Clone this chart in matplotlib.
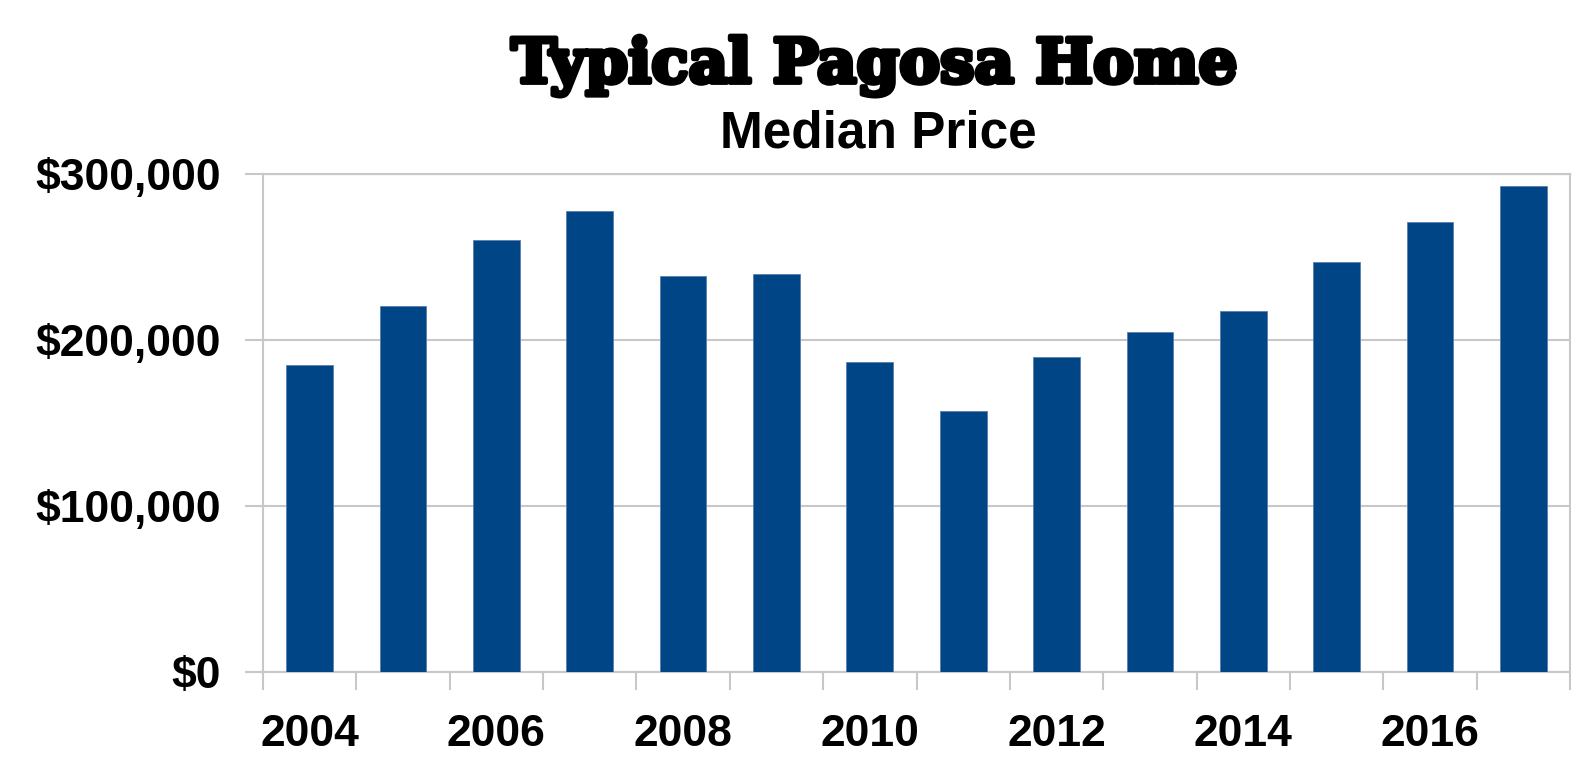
import matplotlib
matplotlib.use("Agg")
import matplotlib.pyplot as plt
import matplotlib.patheffects as pe
from matplotlib.ticker import FuncFormatter, FixedLocator

years = [2004, 2005, 2006, 2007, 2008, 2009, 2010, 2011, 2012, 2013, 2014, 2015, 2016, 2017]
median_price = [185000, 220500, 260000, 278000, 238500, 240000, 187000, 157000,
                190000, 205000, 217500, 247000, 271000, 293000]
y_ticks = [0, 100000, 200000, 300000]
title = "Typical Pagosa Home"
subtitle = "Median Price"

plt.rcParams['font.family'] = ['Liberation Sans', 'DejaVu Sans']

fig = plt.figure(figsize=(15.96, 7.67), dpi=100)
ax = fig.add_axes([263/1596, 1 - 672/767, (1570-263)/1596, (672-174)/767])

grid_c = '#c8c8c8'
x = list(range(len(years)))
ax.bar(x, median_price, width=0.5, color='#004586', edgecolor='#5a7fb0', linewidth=0.6, zorder=3)

ax.set_xlim(-0.5, len(years) - 0.5)
ax.set_ylim(0, 300000)
ax.set_yticks(y_ticks)
ax.yaxis.set_major_formatter(FuncFormatter(lambda v, p: f"${int(v):,}"))
ax.grid(axis='y', color=grid_c, linewidth=1.5, zorder=0)

ax.xaxis.set_major_locator(FixedLocator([i - 0.5 for i in range(len(years) + 1)]))
ax.xaxis.set_major_formatter(FuncFormatter(lambda v, p: ""))
ax.xaxis.set_minor_locator(FixedLocator([i for i in x if years[i] % 2 == 0]))
ax.xaxis.set_minor_formatter(FuncFormatter(lambda v, p: str(years[int(round(v))])))

ax.tick_params(axis='x', which='major', length=13, width=1.5, color=grid_c)
ax.tick_params(axis='x', which='minor', length=0, pad=30, labelsize=32)
ax.tick_params(axis='y', which='major', length=13, width=1.5, color=grid_c, pad=17, labelsize=32)
for lab in ax.get_xticklabels(minor=True) + ax.get_yticklabels():
    lab.set_fontweight('bold')

for s in ax.spines.values():
    s.set_color(grid_c)
    s.set_linewidth(1.5)

fig.text(874/1596, 1 - 66/767, title, ha='center', va='center', fontsize=44,
         fontweight='bold', family=['DejaVu Serif'],
         path_effects=[pe.withStroke(linewidth=3.5, foreground='black')])
fig.text(878/1596, 1 - 134/767, subtitle, ha='center', va='center', fontsize=37,
         fontweight='bold')

fig.savefig("out.png", dpi=100)
